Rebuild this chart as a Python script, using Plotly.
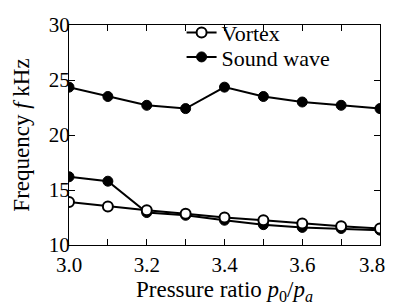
import plotly.graph_objects as go

pressure = [3.0, 3.1, 3.2, 3.3, 3.4, 3.5, 3.6, 3.7, 3.8]
vortex = [13.9, 13.5, 13.15, 12.85, 12.5, 12.25, 11.95, 11.7, 11.5]
sound_upper = [24.35, 23.5, 22.7, 22.4, 24.35, 23.5, 23.0, 22.7, 22.4]
sound_lower = [16.2, 15.8, 12.95, 12.7, 12.25, 11.85, 11.6, 11.5, 11.35]
x_tick_vals = [3.0, 3.2, 3.4, 3.6, 3.8]
x_tick_text = ["3.0", "3.2", "3.4", "3.6", "3.8\u00a0\u00a0\u00a0"]
y_tick_vals = [10, 15, 20, 25, 30]

font = "Liberation Serif"

fig = go.Figure()
fig.add_trace(go.Scatter(
    x=pressure, y=sound_lower, mode="lines+markers", name="Sound wave",
    legendgroup="s", showlegend=False, legend="legend2",
    line=dict(color="black", width=2),
    marker=dict(symbol="circle", size=10, color="black", line=dict(color="black", width=1)),
))
fig.add_trace(go.Scatter(
    x=pressure, y=vortex, mode="lines+markers", name="Vortex",
    legend="legend", showlegend=True,
    line=dict(color="black", width=2),
    marker=dict(symbol="circle", size=10, color="white", line=dict(color="black", width=2)),
))
fig.add_trace(go.Scatter(
    x=pressure, y=sound_upper, mode="lines+markers", name="Sound wave",
    legendgroup="s", legend="legend2", showlegend=True,
    line=dict(color="black", width=2),
    marker=dict(symbol="circle", size=10, color="black", line=dict(color="black", width=1)),
))

axis_common = dict(
    showline=True, linecolor="black", linewidth=1.2, mirror="ticks",
    ticks="inside", ticklen=6, tickcolor="black", tickwidth=1,
    showgrid=False, zeroline=False,
    tickfont=dict(family=font, size=21, color="black"),
)

legend_common = dict(xanchor="left", yanchor="middle", bgcolor="rgba(0,0,0,0)",
                     font=dict(family=font, size=22, color="black"),
                     itemwidth=30, tracegroupgap=0)

fig.update_layout(
    width=413, height=305,
    showlegend=True,
    margin=dict(l=69, r=15, t=14, b=57),
    paper_bgcolor="white", plot_bgcolor="white",
    font=dict(family=font, color="black", size=21),
    xaxis=dict(range=[3.0, 3.8], tickvals=x_tick_vals, ticktext=x_tick_text,
               ticklabeloverflow="allow", ticklabelstandoff=1,
               minor=dict(dtick=0.1, tick0=3.0, ticks="inside", ticklen=6, tickcolor="black", showgrid=False),
               title=dict(text="Pressure ratio <i>p</i><sub>0</sub>/<i>p</i><sub><i>a</i></sub>",
                          font=dict(family=font, size=23, color="black"), standoff=0),
               **axis_common),
    yaxis=dict(range=[10, 30], tickvals=y_tick_vals, ticklabelstandoff=-6,
               title=dict(text="Frequency <i>f</i> kHz",
                          font=dict(family=font, size=23, color="black"), standoff=12),
               **axis_common),
    legend=dict(x=0.362, y=0.965, **legend_common),
    legend2=dict(x=0.362, y=0.854, **legend_common),
)

fig.write_html("out.html", config={"displayModeBar": False},
               post_script="document.body.style.margin='0';document.body.style.overflow='hidden';")
